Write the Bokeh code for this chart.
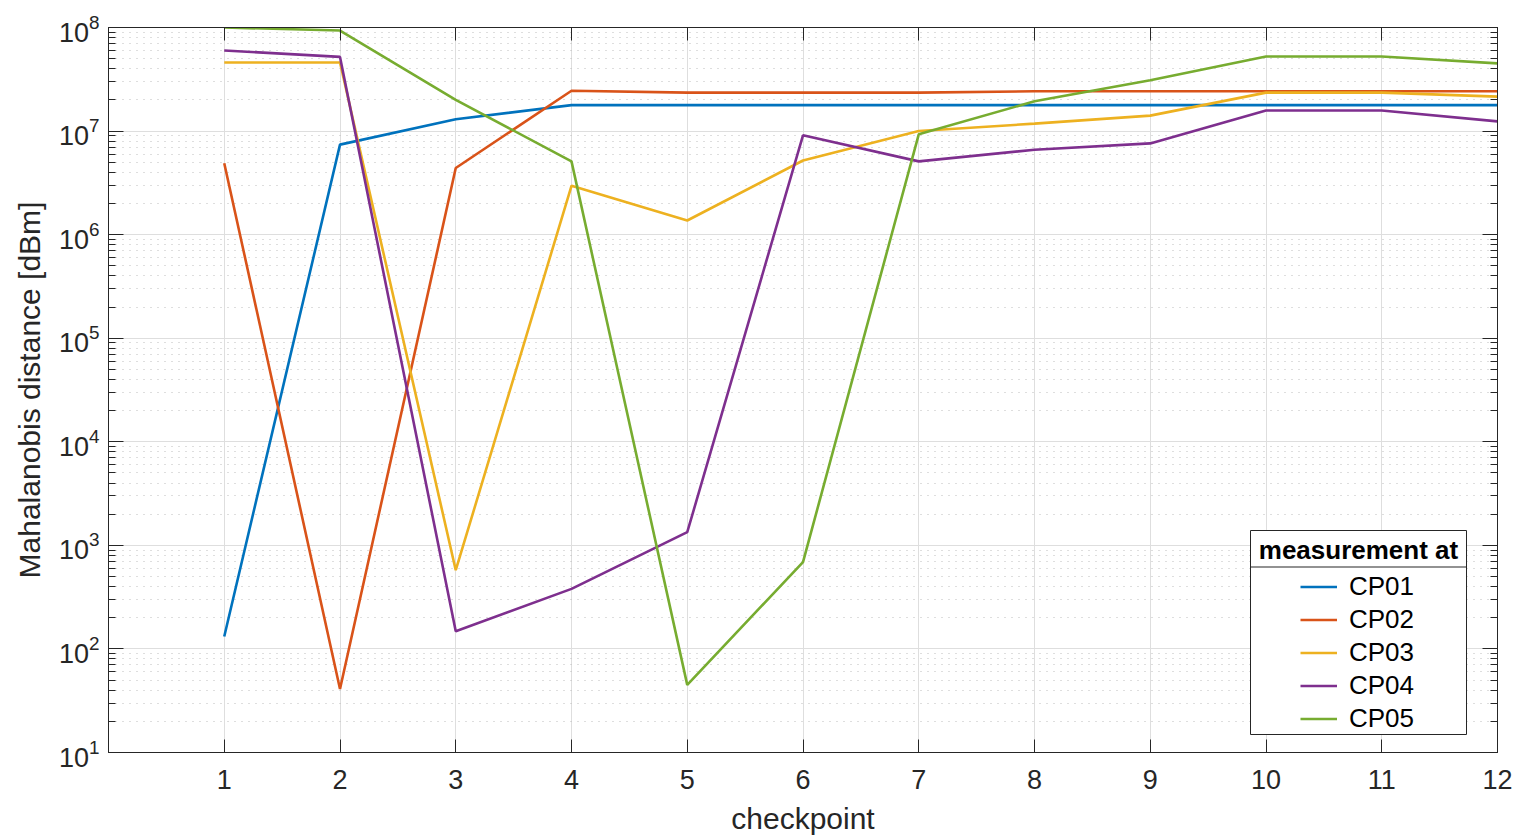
from bokeh.plotting import figure
from bokeh.models import (FixedTicker, LinearAxis, LogAxis, Legend, LegendItem,
                          BoxAnnotation, Label, Range1d, CustomJSTickFormatter)
from bokeh.embed import file_html
from bokeh.resources import INLINE

# ---------------- data ----------------
checkpoints = [1, 2, 3, 4, 5, 6, 7, 8, 9, 10, 11, 12]
cp01 = [132, 7.4e6, 1.3e7, 1.78e7, 1.78e7, 1.78e7, 1.78e7, 1.78e7, 1.78e7, 1.78e7, 1.78e7, 1.78e7]
cp02 = [4.9e6, 41, 4.4e6, 2.45e7, 2.35e7, 2.35e7, 2.35e7, 2.42e7, 2.42e7, 2.42e7, 2.42e7, 2.42e7]
cp03 = [4.6e7, 4.6e7, 575, 2.96e6, 1.37e6, 5.2e6, 1.0e7, 1.18e7, 1.41e7, 2.35e7, 2.35e7, 2.15e7]
cp04 = [6.0e7, 5.2e7, 148, 380, 1340, 9.1e6, 5.1e6, 6.6e6, 7.6e6, 1.58e7, 1.58e7, 1.24e7]
cp05 = [1.0e8, 9.35e7, 2.0e7, 5.1e6, 45, 690, 9.3e6, 1.94e7, 3.1e7, 5.25e7, 5.25e7, 4.5e7]
series_names = ["CP01", "CP02", "CP03", "CP04", "CP05"]
series_values = [cp01, cp02, cp03, cp04, cp05]
colors = ["#0072BD", "#D95319", "#EDB120", "#7E2F8E", "#77AC30"]
legend_title = "measurement at"
x_label = "checkpoint"
y_label = "Mahalanobis distance [dBm]"
y_exponents = [1, 2, 3, 4, 5, 6, 7, 8]

# ---------------- layout ----------------
W, H = 1516, 837
L, R, T, B = 108, 19, 27, 85
FONT = "Liberation Sans"
AX = "#262626"

y_major = [10.0 ** k for k in y_exponents]
y_minor = [m * 10.0 ** k for k in y_exponents[:-1] for m in range(2, 10)]
xticker = FixedTicker(ticks=checkpoints)
yticker = FixedTicker(ticks=y_major, minor_ticks=y_minor)

p = figure(width=W, height=H, y_axis_type="log",
           x_range=Range1d(0, 12), y_range=Range1d(10, 1e8),
           output_backend="svg", toolbar_location=None,
           min_border_left=L, min_border_right=R, min_border_top=T, min_border_bottom=B,
           background_fill_color="white", border_fill_color="white")
p.outline_line_color = AX
p.outline_line_width = 1

# grids
p.xgrid.ticker = xticker
p.ygrid.ticker = yticker
for g in (p.xgrid, p.ygrid):
    g.grid_line_color = "#dedede"
    g.grid_line_width = 1
p.ygrid.minor_grid_line_color = "#bdbdbd"
p.ygrid.minor_grid_line_dash = "1 6"
p.ygrid.minor_grid_line_width = 1.2

# axes
xa = p.xaxis[0]
ya = p.yaxis[0]
xa.ticker = xticker
ya.ticker = yticker
for a in (xa, ya):
    a.axis_line_color = AX
    a.major_tick_line_color = AX
    a.minor_tick_line_color = AX
    a.major_tick_out = 0
    a.minor_tick_out = 0
    a.major_label_text_font = FONT
    a.major_label_text_font_size = "27px"
    a.major_label_text_color = AX
    a.axis_label_text_font = FONT
    a.axis_label_text_font_size = "30px"
    a.axis_label_text_font_style = "normal"
    a.axis_label_text_color = AX
xa.major_tick_in = 13
xa.minor_tick_line_color = None
xa.major_label_standoff = 17
xa.axis_label = x_label
xa.axis_label_standoff = 10
ya.major_tick_in = 15
ya.minor_tick_in = 7
ya.major_label_standoff = 9
ya.axis_label = y_label
ya.axis_label_standoff = 10

top_axis = LinearAxis(ticker=xticker, formatter=CustomJSTickFormatter(code="return '';"),
                      major_tick_in=13, major_tick_out=0, minor_tick_line_color=None,
                      major_label_standoff=0,
                      axis_line_color=AX, major_tick_line_color=AX)
p.add_layout(top_axis, "above")
right_axis = LogAxis(ticker=yticker, formatter=CustomJSTickFormatter(code="return '';"),
                     major_tick_in=15, major_tick_out=0, minor_tick_in=7, minor_tick_out=0,
                     major_label_standoff=0,
                     axis_line_color=AX, major_tick_line_color=AX, minor_tick_line_color=AX)
p.add_layout(right_axis, "right")

# lines
renderers = []
for vals, c in zip(series_values, colors):
    r = p.line(checkpoints, vals, line_color=c, line_width=2.6)
    renderers.append(r)

# legend (MATLAB style: boxed, title with separator)
fb = H - B  # frame bottom in canvas px
box = BoxAnnotation(left=1250 - L, right=1466 - L, bottom=fb - 734, top=fb - 530,
                    left_units="screen", right_units="screen",
                    bottom_units="screen", top_units="screen",
                    fill_color="white", fill_alpha=1.0,
                    line_color=AX, line_alpha=1.0, line_width=1)
p.add_layout(box)
sep = BoxAnnotation(left=1250 - L, right=1466 - L, bottom=fb - 567, top=fb - 566,
                    left_units="screen", right_units="screen",
                    bottom_units="screen", top_units="screen",
                    fill_color=AX, fill_alpha=1.0, line_color=None)
p.add_layout(sep)
title = Label(x=(1250 + 1466) / 2 - L, y=fb - 549, x_units="screen", y_units="screen",
              text=legend_title, text_font=FONT, text_font_style="bold",
              text_font_size="26px", text_color="black",
              text_align="center", text_baseline="middle")
p.add_layout(title)
legend = Legend(items=[LegendItem(label=n, renderers=[r]) for n, r in zip(series_names, renderers)],
                location=(1300 - L, fb - 734.5), padding=0, margin=0, spacing=0,
                glyph_width=37, glyph_height=33, label_height=33, label_standoff=12,
                label_text_font=FONT, label_text_font_size="26px", label_text_color="black",
                border_line_color=None, background_fill_alpha=0)
p.add_layout(legend)

open("out.html", "w").write(file_html(p, INLINE))
